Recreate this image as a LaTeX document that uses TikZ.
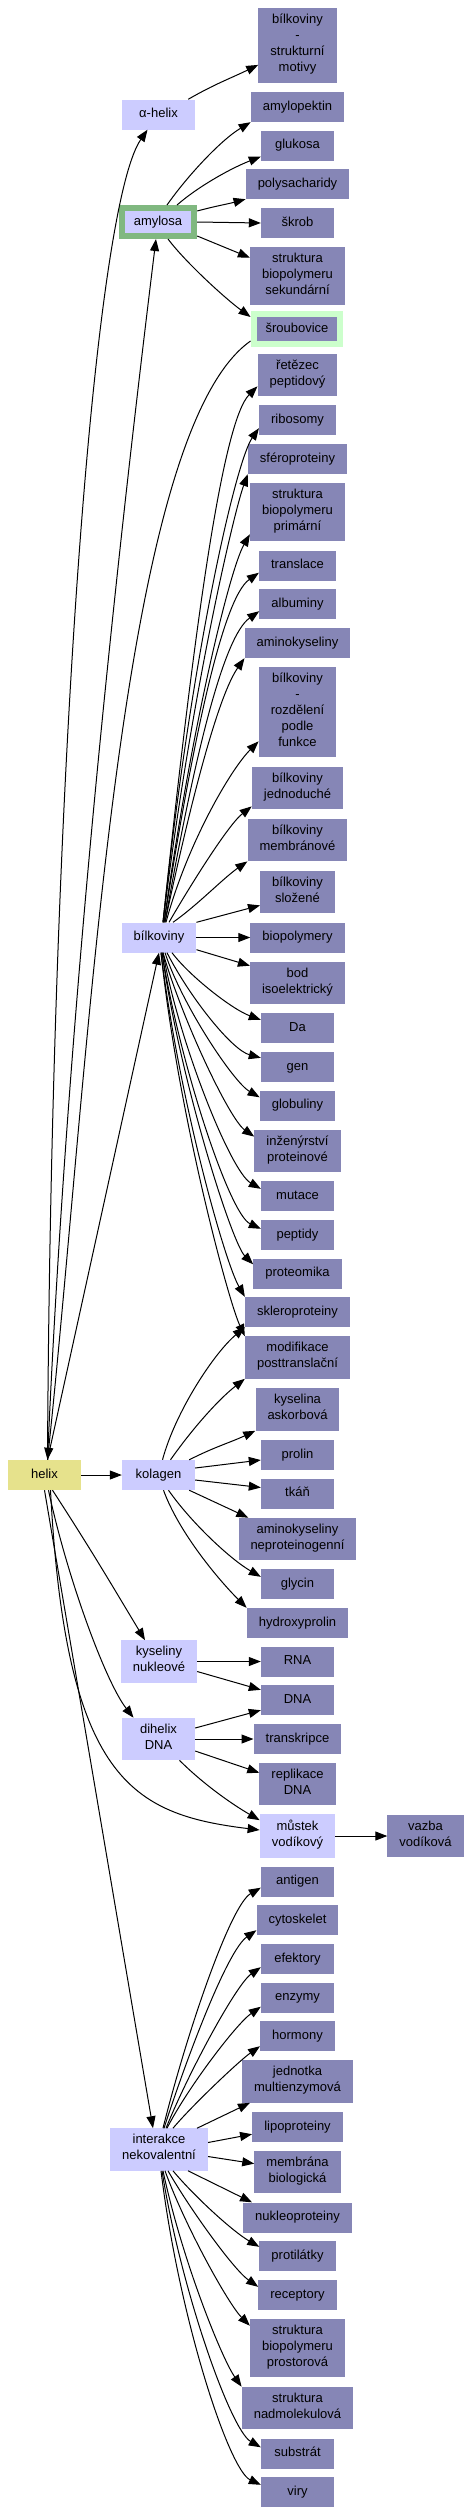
\documentclass[tikz,border=0pt]{standalone}
\usepackage{fontspec}
\setmainfont{Liberation Sans}
\usetikzlibrary{arrows.meta}
\definecolor{leafblue}{RGB}{134,134,182}
\definecolor{hubblue}{RGB}{204,204,255}
\definecolor{helixyellow}{RGB}{230,226,140}
\definecolor{amylgreen}{RGB}{128,184,128}
\definecolor{sroubgreen}{RGB}{204,255,204}
\begin{document}
\begin{tikzpicture}[x=1pt, y=1pt,
    box/.style={rectangle, minimum width=73pt, minimum height=30pt, inner xsep=12pt, inner ysep=6pt,
        align=center, font=\fontsize{13}{16}\selectfont,
        execute at begin node=\strut, execute at end node=\strut},
    leaf/.style={box, fill=leafblue},
    hub/.style={box, fill=hubblue},
    edge/.style={-{Triangle[length=12pt,width=9pt]}, line width=1pt}]
    \useasboundingbox (0,0) rectangle (471,-2514);

    % left column
    \node[box, fill=helixyellow] (helix) at (44.5,-1475) {helix};
    \node[hub] (ahelix) at (158.5,-114.5) {α-helix};
    \node[hub, draw=amylgreen, line width=6pt, minimum width=72pt, minimum height=28pt] (amylosa) at (158,-222) {amylosa};
    \node[hub] (bilk) at (159,-937.5) {bílkoviny};
    \node[hub] (kolagen) at (158.5,-1475) {kolagen};
    \node[hub] (nukle) at (159,-1661.5) {kyseliny\\nukleové};
    \node[hub] (dihelix) at (158.5,-1739) {dihelix\\DNA};
    \node[hub] (interakce) at (159,-2149.5) {interakce\\nekovalentní};

    % right column
    \node[leaf] (motivy) at (297.5,-45.5) {bílkoviny\\-\\strukturní\\motivy};
    \node[leaf] (amylopektin) at (297.5,-107) {amylopektin};
    \node[leaf] (glukosa) at (297.5,-145.5) {glukosa};
    \node[leaf] (polysach) at (297.5,-184) {polysacharidy};
    \node[leaf] (skrob) at (297.5,-223) {škrob};
    \node[leaf] (sekund) at (297.5,-276) {struktura\\biopolymeru\\sekundární};
    \node[leaf, draw=sroubgreen, line width=6pt, minimum width=86pt] (sroub) at (297,-329) {šroubovice};
    \node[leaf] (retez) at (297.5,-375) {řetězec\\peptidový};
    \node[leaf] (ribosomy) at (297.5,-420) {ribosomy};
    \node[leaf] (sfero) at (297.5,-459) {sféroproteiny};
    \node[leaf] (primar) at (297.5,-512) {struktura\\biopolymeru\\primární};
    \node[leaf] (translace) at (297.5,-565.5) {translace};
    \node[leaf] (albuminy) at (297.5,-604) {albuminy};
    \node[leaf] (aminok) at (297.5,-643) {aminokyseliny};
    \node[leaf] (rozdel) at (297.5,-712) {bílkoviny\\-\\rozdělení\\podle\\funkce};
    \node[leaf] (jednod) at (297.5,-788) {bílkoviny\\jednoduché};
    \node[leaf] (membran) at (297.5,-840) {bílkoviny\\membránové};
    \node[leaf] (slozene) at (297.5,-892) {bílkoviny\\složené};
    \node[leaf] (biopol) at (297.5,-937.5) {biopolymery};
    \node[leaf] (bod) at (297.5,-983) {bod\\isoelektrický};
    \node[leaf] (da) at (297.5,-1028) {Da};
    \node[leaf] (gen) at (297.5,-1067) {gen};
    \node[leaf] (globul) at (297.5,-1105.5) {globuliny};
    \node[leaf] (inzen) at (297.5,-1151) {inženýrství\\proteinové};
    \node[leaf] (mutace) at (297.5,-1196) {mutace};
    \node[leaf] (peptidy) at (297.5,-1235) {peptidy};
    \node[leaf] (proteom) at (297.5,-1273.5) {proteomika};
    \node[leaf] (sklero) at (297.5,-1312) {skleroproteiny};
    \node[leaf] (modif) at (297.5,-1357.5) {modifikace\\posttranslační};
    \node[leaf] (askorb) at (297.5,-1409.5) {kyselina\\askorbová};
    \node[leaf] (prolin) at (297.5,-1455) {prolin};
    \node[leaf] (tkan) at (297.5,-1493.5) {tkáň};
    \node[leaf] (neprot) at (297.5,-1539) {aminokyseliny\\neproteinogenní};
    \node[leaf] (glycin) at (297.5,-1584) {glycin};
    \node[leaf] (hydroxy) at (297.5,-1623) {hydroxyprolin};
    \node[leaf] (rna) at (297.5,-1661.5) {RNA};
    \node[leaf] (dna) at (297.5,-1700) {DNA};
    \node[leaf] (transkr) at (297.5,-1739) {transkripce};
    \node[leaf] (replik) at (297.5,-1784) {replikace\\DNA};
    \node[hub] (mustek) at (297.5,-1836) {můstek\\vodíkový};
    \node[leaf] (vazba) at (425.5,-1836) {vazba\\vodíková};
    \node[leaf] (antigen) at (297.5,-1881.5) {antigen};
    \node[leaf] (cytosk) at (297.5,-1920) {cytoskelet};
    \node[leaf] (efekt) at (297.5,-1959) {efektory};
    \node[leaf] (enzymy) at (297.5,-1997.5) {enzymy};
    \node[leaf] (hormony) at (297.5,-2036) {hormony};
    \node[leaf] (jednotka) at (297.5,-2081.5) {jednotka\\multienzymová};
    \node[leaf] (lipo) at (297.5,-2127) {lipoproteiny};
    \node[leaf] (membrbio) at (297.5,-2172) {membrána\\biologická};
    \node[leaf] (nukleop) at (297.5,-2217.5) {nukleoproteiny};
    \node[leaf] (protil) at (297.5,-2256) {protilátky};
    \node[leaf] (recept) at (297.5,-2295) {receptory};
    \node[leaf] (prostor) at (297.5,-2348) {struktura\\biopolymeru\\prostorová};
    \node[leaf] (nadmol) at (297.5,-2408) {struktura\\nadmolekulová};
    \node[leaf] (substrat) at (297.5,-2453.5) {substrát};
    \node[leaf] (viry) at (297.5,-2492) {viry};

    % alpha-helix and amylosa
    \draw[edge] ([xshift=-7]ahelix.north east) to[out=30,in=206] ([yshift=18]motivy.south west);
    \draw[edge] ([xshift=9]amylosa.north) .. controls +(55:35) and +(211:35) .. (amylopektin.south west);
    \draw[edge] ([xshift=19]amylosa.north) .. controls +(41:30) and +(201:30) .. ([yshift=4]glukosa.south west);
    \draw[edge] ([yshift=-6]amylosa.north east) to[out=15,in=195] (polysach.south west);
    \draw[edge] (amylosa.east) -- (skrob.west);
    \draw[edge] ([yshift=3]amylosa.south east) -- ([yshift=-11]sekund.north west);
    \draw[edge] ([xshift=10]amylosa.south) .. controls +(-53:30) and +(144:30) .. ([yshift=-6]sroub.north west);

    % helix
    \draw[edge] ([xshift=3]helix.north) .. controls +(89.7:660) and +(235.5:97) .. ([xshift=-11]ahelix.south);
    \draw[edge] ([xshift=3]helix.north) .. controls +(87.5:400) and +(263:400) .. ([xshift=-2]amylosa.south);
    \draw[edge] ([yshift=6]sroub.south west) .. controls +(215:162) and +(84:412) .. ([xshift=3]helix.north);
    \draw[edge] ([xshift=3]helix.north) -- (bilk.south);
    \draw[edge] (helix.east) -- (kolagen.west);
    \draw[edge] ([xshift=8]helix.south) to[out=-57,in=121] ([xshift=-14]nukle.north);
    \draw[edge] ([xshift=4]helix.south) .. controls +(-78:90) and +(128:45) .. ([xshift=-25]dihelix.north);
    \draw[edge] ([xshift=6]helix.south) .. controls +(-87:290) and +(173:129) .. ([yshift=6]mustek.west);
    \draw[edge] (helix.south) -- ([xshift=-6]interakce.north);

    % bilkoviny
    \foreach \n/\ys/\xs/\oa/\od/\ia/\id in {retez/10/4/84/290/225/50, ribosomy/7/4/84/270/235/40,
        sfero/0/4/83/230/250/40, primar/7/5/82/200/240/40, translace/8/5/81/180/215/45,
        albuminy/8/6/80/160/215/45, aminok/0/6/78/130/235/45, rozdel/16/7/75/80/225/40,
        jednod/3/10/60/40/218/30, membran/0/14/35/30/215/30}
        \draw[edge] ([xshift=\xs]bilk.north) .. controls +(\oa:\od) and +(\ia:\id) .. ([yshift=\ys]\n.south west);
    \draw[edge] (bilk.north east) -- ([yshift=8]slozene.south west);
    \draw[edge] (bilk.east) -- (biopol.west);
    \draw[edge] ([yshift=3]bilk.south east) -- ([yshift=-4]bod.north west);
    \foreach \n/\ys/\xs/\oa/\od/\ia/\id in {da/7/13/-53/30/160/30, gen/6/8/-63/50/165/30,
        globul/7/6/-72/55/150/30, inzen/7/4/-74/70/145/30, mutace/8/4/-80/90/150/35,
        peptidy/9/3/-81/110/155/35, proteom/6/3/-82/130/135/30, sklero/0/2/-83/150/120/40,
        modif/0/2/-84/160/115/40}
        \draw[edge] ([xshift=\xs]bilk.south) .. controls +(\oa:\od) and +(\ia:\id) .. ([yshift=-\ys]\n.north west);

    % kolagen
    \draw[edge] ([xshift=4]kolagen.north) .. controls +(75:50) and +(220:40) .. (sklero.south west);
    \draw[edge] ([xshift=12]kolagen.north) .. controls +(55:35) and +(218:35) .. (modif.south west);
    \draw[edge] ([xshift=-6]kolagen.north east) to[out=27,in=205] (askorb.south west);
    \draw[edge] ([yshift=7]kolagen.east) -- ([yshift=-5]prolin.west);
    \draw[edge] ([yshift=-5]kolagen.east) -- ([yshift=6]tkan.west);
    \draw[edge] ([xshift=-6]kolagen.south east) -- ([xshift=10]neprot.north west);
    \draw[edge] ([xshift=10]kolagen.south) .. controls +(-55:40) and +(150:35) .. ([yshift=-8]glycin.north west);
    \draw[edge] ([xshift=5]kolagen.south) .. controls +(-70:45) and +(135:40) .. (hydroxy.north west);

    % nucleic acids
    \draw[edge] (nukle.east) -- (rna.west);
    \draw[edge] ([yshift=-10]nukle.east) -- ([yshift=-5]dna.north west);
    \draw[edge] ([yshift=11]dihelix.east) -- ([yshift=5]dna.south west);
    \draw[edge] (dihelix.east) -- (transkr.west);
    \draw[edge] ([yshift=-12]dihelix.east) -- ([yshift=-10]replik.north west);
    \draw[edge] ([xshift=21]dihelix.south) .. controls +(-45:35) and +(150:30) .. ([yshift=-6]mustek.north west);
    \draw[edge] (mustek.east) -- (vazba.west);

    % interakce nekovalentni
    \foreach \n/\ys/\xs/\oa/\od/\ia/\id in {antigen/9/4/76/100/210/35, cytosk/5/5/72/80/215/35,
        efekt/7/7/68/60/215/30, enzymy/6/8/63/45/215/30, hormony/5/14/50/30/215/25}
        \draw[edge] ([xshift=\xs]interakce.north) .. controls +(\oa:\od) and +(\ia:\id) .. ([yshift=\ys]\n.south west);
    \draw[edge] ([xshift=-11]interakce.north east) -- ([xshift=8]jednotka.south west);
    \draw[edge] ([yshift=7]interakce.east) -- ([yshift=8]lipo.south west);
    \draw[edge] ([yshift=-7]interakce.east) -- ([yshift=-13]membrbio.north west);
    \draw[edge] ([xshift=-20]interakce.south east) -- ([xshift=9]nukleop.north west);
    \foreach \n/\ys/\xs/\oa/\od/\ia/\id in {protil/6/14/-50/35/150/30, recept/7/9/-60/45/145/30,
        prostor/7/6/-70/60/135/30, nadmol/0/4/-78/90/125/35, substrat/9/3/-81/120/150/35,
        viry/8/2/-83/150/155/35}
        \draw[edge] ([xshift=\xs]interakce.south) .. controls +(\oa:\od) and +(\ia:\id) .. ([yshift=-\ys]\n.north west);
\end{tikzpicture}
\end{document}
